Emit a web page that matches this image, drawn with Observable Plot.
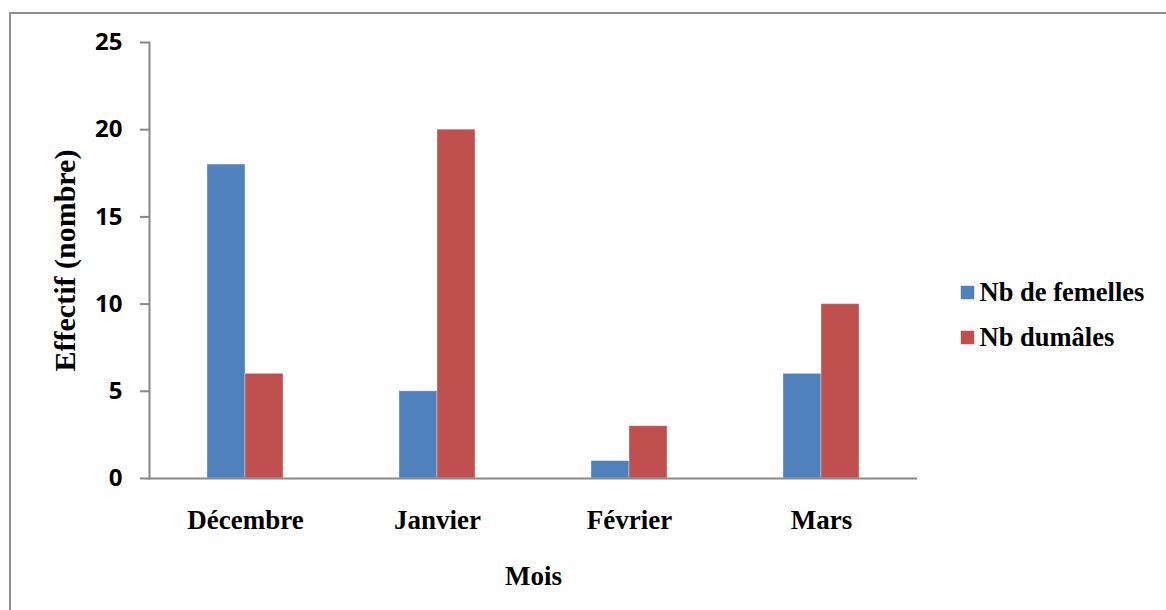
<!DOCTYPE html>
<html lang="fr">
<head>
<meta charset="utf-8">
<script src="https://cdn.jsdelivr.net/npm/d3@7"></script>
<script src="https://cdn.jsdelivr.net/npm/@observablehq/plot@0.6"></script>
<style>
  html, body { margin: 0; padding: 0; background: #fff; }
  #chart { position: relative; width: 1166px; height: 610px; overflow: hidden; }
  #chart .edge { position: absolute; left: 9px; top: 12px; width: 2000px; height: 2000px;
    border-left: 2.5px solid #8e8e8e; border-top: 2.5px solid #8e8e8e; }
  #chart svg { position: absolute; left: 0; top: 0; }
  #chart svg.key { left: 950px; top: 270px; }
</style>
</head>
<body>
<div id="chart"><div class="edge"></div></div>
<script>
// Monthly counts of females and males
const months = ["Décembre", "Janvier", "Février", "Mars"];
const series = ["Nb de femelles", "Nb dumâles"];
const femelles = [18, 5, 1, 6];
const males = [6, 20, 3, 10];
const colors = ["#4F81BD", "#C0504D"];
const yTicks = [0, 5, 10, 15, 20, 25];

const rows = months.flatMap((m, i) => [
  {month: m, serie: series[0], value: femelles[i]},
  {month: m, serie: series[1], value: males[i]}
]);

const axisGrey = "#878787";
const serif = "Liberation Serif, Times New Roman, serif";
const sans = "Open Sans, sans-serif";

const chart = Plot.plot({
  width: 1166,
  height: 610,
  marginLeft: 147,
  marginRight: 248,
  marginTop: 42,
  marginBottom: 132,
  style: {background: "transparent", color: "#000"},
  fx: {domain: months, padding: 0},
  x: {domain: series, paddingInner: 0, paddingOuter: 1.5, axis: null},
  y: {domain: [0, 25]},
  color: {domain: series, range: colors},
  marks: [
    Plot.barY(rows, {
      fx: "month", x: "serie", y: "value", fill: "serie",
      stroke: "#fff", strokeOpacity: 0.35, strokeWidth: 1
    }),
    Plot.ruleY([0], {stroke: axisGrey, strokeWidth: 2}),
    Plot.frame({anchor: "left", facetAnchor: "left", stroke: axisGrey, strokeWidth: 2}),
    // tick marks and numbers
    Plot.axisY({
      ticks: yTicks, tickSize: 9, tickPadding: 18, stroke: axisGrey, strokeWidth: 2,
      label: null, fontSize: 24, fontFamily: sans, fontWeight: 700
    }),
    // axis title
    Plot.axisY({
      ticks: [], tickSize: 0,
      label: "Effectif (nombre)", labelAnchor: "center", labelArrow: "none", labelOffset: 96,
      fontSize: 30, fontFamily: serif, fontWeight: 700
    }),
    Plot.axisFx({
      anchor: "bottom", tickSize: 0, tickPadding: 31,
      label: "Mois", labelAnchor: "center", labelArrow: "none", labelOffset: 106,
      fontSize: 27, fontFamily: serif, fontWeight: 700
    })
  ]
});

// Legend: one square swatch and one label per series
const key = Plot.plot({
  width: 216,
  height: 90,
  margin: 0,
  style: {background: "transparent", color: "#000"},
  x: {type: "identity", axis: null},
  y: {type: "point", domain: series, range: [22, 67], padding: 0, axis: null},
  color: {domain: series, range: colors},
  marks: [
    Plot.dot(series, {x: 17, y: d => d, fill: d => d, symbol: "square", r: 7.6}),
    Plot.text(series, {
      x: 17, y: d => d, text: d => d, dx: 12, textAnchor: "start",
      fontSize: 26.5, fontFamily: serif, fontWeight: 700
    })
  ]
});
key.classList.add("key");

const host = document.getElementById("chart");
host.append(chart, key);
</script>
</body>
</html>
